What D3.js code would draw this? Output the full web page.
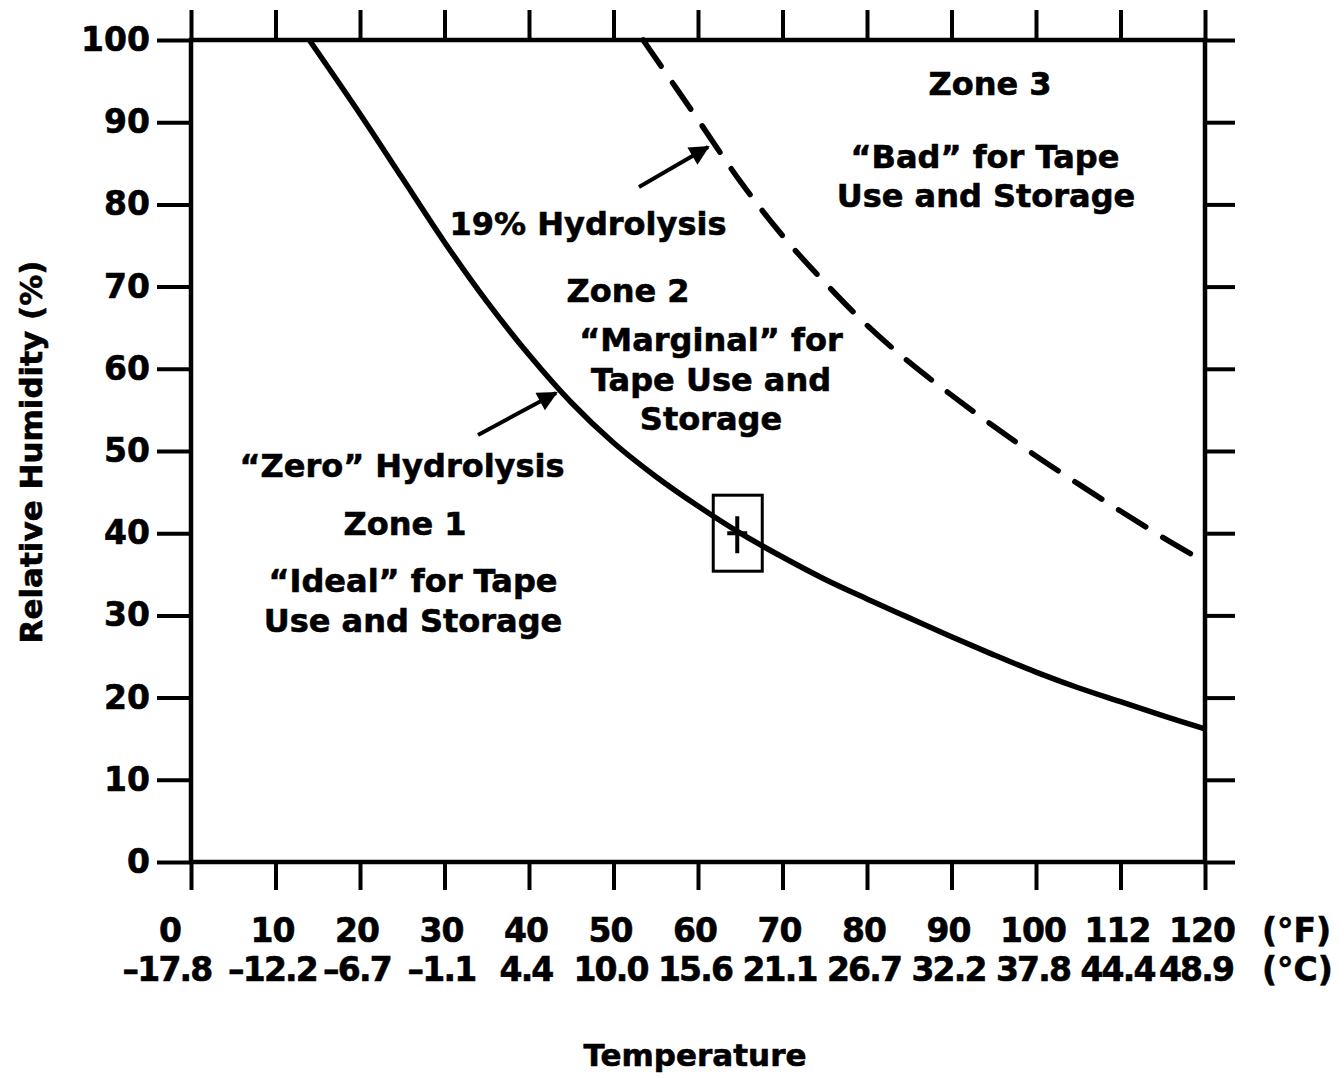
<!doctype html>
<html lang="en">
  <head>
    <meta charset="utf-8">
    <title>Tape Hydrolysis Zones</title>
    <script src="https://cdn.jsdelivr.net/npm/d3@7"></script>
    <style>
      body { margin: 0; background: #fff; }
      svg text { font-family: "DejaVu Sans", sans-serif; font-weight: bold; fill: #000; stroke: #000; stroke-width: 0.6px; }
    </style>
  </head>
  <body>
    <script>
      // °F ticks and their two label rows
      const tempTicks = [0, 10, 20, 30, 40, 50, 60, 70, 80, 90, 100, 110, 120];
      const fLabels = ["0", "10", "20", "30", "40", "50", "60", "70", "80", "90", "100", "112", "120"];
      const cLabels = ["\u201317.8", "\u201312.2", "\u20136.7", "\u20131.1", "4.4", "10.0", "15.6", "21.1", "26.7", "32.2", "37.8", "44.4", "48.9"];
      const rhTicks = [0, 10, 20, 30, 40, 50, 60, 70, 80, 90, 100];

      // "zero" hydrolysis boundary (solid)
      const zeroTemp = [14, 20, 25, 30, 35, 40, 45, 50, 55, 60, 65, 70, 75, 80, 85, 90, 95, 100, 105, 110, 115, 120];
      const zeroRH = [100, 91, 83.2, 75.4, 68.2, 61.7, 55.9, 51, 46.9, 43.3, 40, 37.1, 34.4, 32, 29.7, 27.4, 25.2, 23.1, 21.2, 19.5, 17.8, 16.2];

      // 19% hydrolysis boundary (dashed)
      const badTemp = [53.5, 60, 65, 70, 75, 80, 85, 90, 95, 100, 105, 110, 115, 120];
      const badRH = [100, 90.3, 82.8, 76.2, 70.5, 65.3, 60.8, 56.8, 53, 49.4, 46, 42.7, 39.5, 36.5];

      // recommended point (boxed)
      const markTemp = 65;
      const markRH = 40;

      const w = 1340;
      const h = 1078;
      const pLeft = 191, pRight = 1205, pTop = 40, pBottom = 862;

      const xScale = d3.scaleLinear().domain([0, 120]).range([pLeft, pRight]);
      const yScale = d3.scaleLinear().domain([0, 100]).range([pBottom, pTop]);

      const svg = d3.select("body")
                    .append("svg")
                    .attr("width", w)
                    .attr("height", h);

      svg.append("defs").append("marker")
         .attr("id", "head")
         .attr("viewBox", "0 0 10 10")
         .attr("refX", 9).attr("refY", 5)
         .attr("markerWidth", 6).attr("markerHeight", 5)
         .attr("markerUnits", "strokeWidth")
         .attr("orient", "auto")
         .append("path")
         .attr("d", "M0,0 L10,5 L0,10 Z")
         .attr("fill", "#000");

      // ticks on all four sides, pointing out
      const noLabel = () => "";
      svg.append("g")
         .attr("transform", "translate(" + pLeft + ",0)")
         .call(d3.axisLeft(yScale).tickValues(rhTicks).tickSize(34).tickPadding(7).tickSizeOuter(0));
      svg.append("g")
         .attr("transform", "translate(" + pRight + ",0)")
         .call(d3.axisRight(yScale).tickValues(rhTicks).tickSize(30).tickFormat(noLabel).tickSizeOuter(0));
      svg.append("g")
         .attr("transform", "translate(0," + pBottom + ")")
         .call(d3.axisBottom(xScale).tickValues(tempTicks).tickSize(28).tickFormat(noLabel).tickSizeOuter(0));
      svg.append("g")
         .attr("transform", "translate(0," + pTop + ")")
         .call(d3.axisTop(xScale).tickValues(tempTicks).tickSize(30).tickFormat(noLabel).tickSizeOuter(0));

      svg.selectAll(".domain").remove();
      svg.selectAll(".tick line").attr("stroke", "#000").attr("stroke-width", 4);
      svg.selectAll(".tick text").style("font-size", "33px").style("font-family", "DejaVu Sans").style("font-weight", "bold");

      // frame
      svg.append("rect")
         .attr("x", pLeft).attr("y", pTop)
         .attr("width", pRight - pLeft).attr("height", pBottom - pTop)
         .attr("fill", "none").attr("stroke", "#000").attr("stroke-width", 4.5);

      // two rows of x labels
      svg.selectAll(".flab")
         .data(tempTicks)
         .enter()
         .append("text")
         .attr("class", "flab")
         .attr("x", (d, i) => xScale(d) + (i === 0 ? -21 : -3))
         .attr("y", 942)
         .attr("text-anchor", "middle")
         .style("font-size", "33px")
         .style("letter-spacing", "-1px")
         .text((d, i) => fLabels[i]);
      svg.selectAll(".clab")
         .data(tempTicks)
         .enter()
         .append("text")
         .attr("class", "clab")
         .attr("x", (d, i) => xScale(d) + (i === 0 ? -24 : i === tempTicks.length - 1 ? -9 : -3))
         .attr("y", 981)
         .attr("text-anchor", "middle")
         .style("font-size", "33px")
         .style("letter-spacing", "-1.8px")
         .text((d, i) => cLabels[i]);
      svg.append("text").attr("x", 1262).attr("y", 942).style("font-size", "33px").text("(\u00B0F)");
      svg.append("text").attr("x", 1262).attr("y", 981).style("font-size", "33px").text("(\u00B0C)");

      svg.append("text")
         .attr("x", 695).attr("y", 1066)
         .attr("text-anchor", "middle")
         .style("font-size", "31px")
         .text("Temperature");
      svg.append("text")
         .attr("transform", "translate(42,452) rotate(-90)")
         .attr("text-anchor", "middle")
         .style("font-size", "31px")
         .text("Relative Humidity (%)");

      // curves
      const line = d3.line()
                     .x((d) => xScale(d[0]))
                     .y((d) => yScale(d[1]))
                     .curve(d3.curveCatmullRom);

      svg.append("path")
         .attr("d", line(d3.zip(zeroTemp, zeroRH)))
         .attr("fill", "none").attr("stroke", "#000").attr("stroke-width", 5.5);
      svg.append("path")
         .attr("d", line(d3.zip(badTemp, badRH)))
         .attr("fill", "none").attr("stroke", "#000").attr("stroke-width", 5.5)
         .attr("stroke-linecap", "round")
         .attr("stroke-dasharray", "32,20");

      // boxed point
      const mx = xScale(markTemp), my = yScale(markRH);
      svg.append("rect")
         .attr("x", mx - 27).attr("y", my - 38)
         .attr("width", 49).attr("height", 76)
         .attr("fill", "none").attr("stroke", "#000").attr("stroke-width", 3);
      svg.append("path")
         .attr("d", "M" + (mx - 13) + "," + my + "H" + (mx + 7) + "M" + (mx - 3) + "," + (my - 17) + "V" + (my + 20))
         .attr("stroke", "#000").attr("stroke-width", 4);

      // arrows
      svg.append("line")
         .attr("x1", 639).attr("y1", 187).attr("x2", 708).attr("y2", 147)
         .attr("stroke", "#000").attr("stroke-width", 4).attr("marker-end", "url(#head)");
      svg.append("line")
         .attr("x1", 478).attr("y1", 435).attr("x2", 556).attr("y2", 393)
         .attr("stroke", "#000").attr("stroke-width", 4).attr("marker-end", "url(#head)");

      // zone annotations
      const notes = [
        [990, 95, "Zone 3"],
        [985, 168, "\u201CBad\u201D for Tape"],
        [986, 207, "Use and Storage"],
        [588, 235, "19% Hydrolysis"],
        [628, 302, "Zone 2"],
        [711, 351, "\u201CMarginal\u201D for"],
        [711, 391, "Tape Use and"],
        [711, 430, "Storage"],
        [402, 477, "\u201CZero\u201D Hydrolysis"],
        [405, 535, "Zone 1"],
        [413, 592, "\u201CIdeal\u201D for Tape"],
        [413, 632, "Use and Storage"]
      ];
      svg.selectAll(".note")
         .data(notes)
         .enter()
         .append("text")
         .attr("class", "note")
         .attr("x", (d) => d[0])
         .attr("y", (d) => d[1])
         .attr("text-anchor", "middle")
         .style("font-size", "32px")
         .text((d) => d[2]);
    </script>
  </body>
</html>
